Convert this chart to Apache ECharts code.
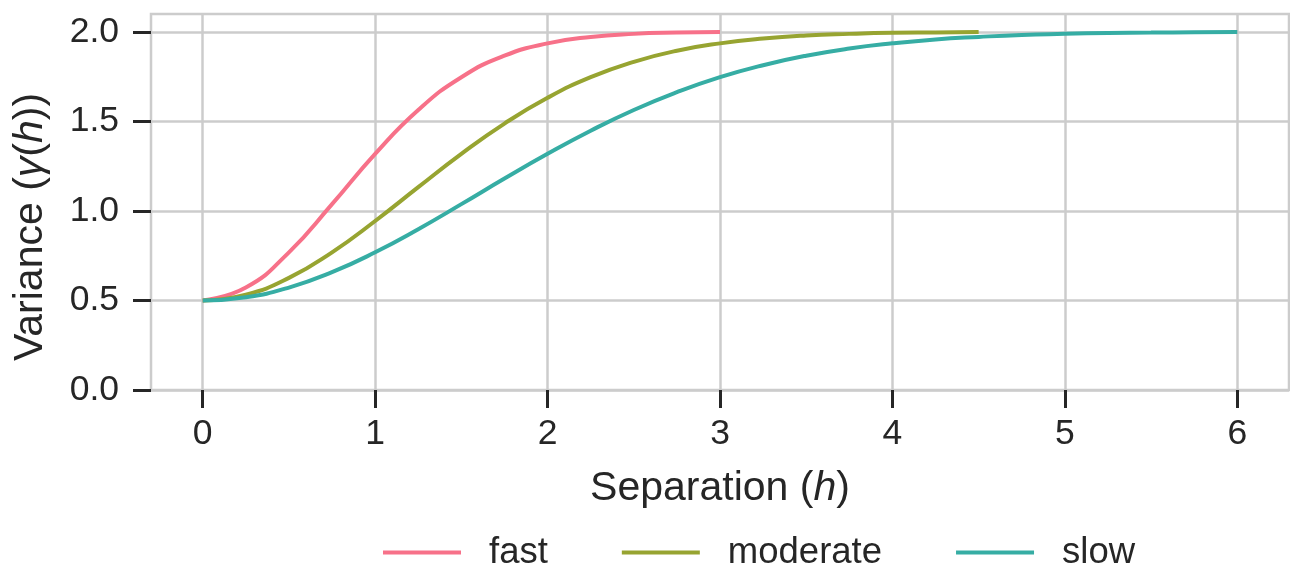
<!DOCTYPE html>
<html>
<head>
<meta charset="utf-8">
<script src="https://cdn.jsdelivr.net/npm/echarts@6/dist/echarts.min.js"></script>
<style>
  html, body { margin: 0; padding: 0; background: #fff; }
  #chart { width: 1290px; height: 565px; }
</style>
</head>
<body>
<div id="chart"></div>
<script>
// separation values (h) and the variance
const sepFast = [0, 0.25, 0.5, 0.75, 1, 1.25, 1.5, 1.75, 2, 2.25, 2.5, 2.75, 3]
const fast = [0.5, 0.572, 0.769, 1.038, 1.319, 1.564, 1.747, 1.867, 1.936, 1.972, 1.989, 1.996, 1.999]

const sepModerate = [0, 0.25, 0.5, 0.75, 1, 1.25, 1.5, 1.75, 2, 2.25, 2.5, 2.75, 3, 3.25, 3.5, 3.75, 4, 4.25, 4.5]
const moderate = [0.5, 0.533, 0.626, 0.769, 0.944, 1.133, 1.319, 1.488, 1.632, 1.747, 1.833, 1.895, 1.936, 1.963, 1.980, 1.989, 1.995, 1.997, 1.999]

const sepSlow = [0, 0.25, 0.5, 0.75, 1, 1.25, 1.5, 1.75, 2, 2.25, 2.5, 2.75, 3, 3.25, 3.5, 3.75, 4, 4.25, 4.5, 4.75, 5, 5.25, 5.5, 5.75, 6]
const slow = [0.5, 0.518, 0.572, 0.658, 0.769, 0.898, 1.038, 1.181, 1.319, 1.448, 1.564, 1.663, 1.747, 1.814, 1.867, 1.907, 1.936, 1.958, 1.972, 1.983, 1.989, 1.994, 1.996, 1.998, 1.999]

const xTicks = [0, 1, 2, 3, 4, 5, 6]
const yTicks = [0, 0.5, 1, 1.5, 2]

const names = ['fast', 'moderate', 'slow']
const colors = ['#f77189', '#97a431', '#36ada4']

const font = 'Liberation Sans, Arial, sans-serif'
const ink = '#262626'
const gridGrey = '#cccccc'

function pairs(xs, ys) {
  return xs.map((x, i) => [x, ys[i]])
}

const chart = echarts.init(document.getElementById('chart'))

const lineSeries = [pairs(sepFast, fast), pairs(sepModerate, moderate), pairs(sepSlow, slow)].map((d, i) => ({
  name: names[i],
  type: 'line',
  data: d,
  smooth: 0.5,
  showSymbol: false,
  symbol: 'none',
  lineStyle: { color: colors[i], width: 4 },
  itemStyle: { color: colors[i] },
  emphasis: { disabled: true },
  z: 3 + i
}))

const titleStyle = {
  fontFamily: font,
  fontSize: 41,
  color: ink,
  rich: {
    i: { fontFamily: font, fontSize: 41, fontStyle: 'italic', color: ink }
  }
}

const option = {
  animation: false,
  grid: {
    left: 151,
    right: 1,
    top: 14,
    bottom: 175,
    show: true,
    borderColor: gridGrey,
    borderWidth: 2.5,
    backgroundColor: 'transparent'
  },
  xAxis: {
    type: 'value',
    min: -0.3,
    max: 6.3,
    name: 'Separation ({i|h})',
    nameLocation: 'middle',
    nameGap: 78,
    nameTextStyle: titleStyle,
    axisLine: { show: false, onZero: false },
    axisTick: {
      show: true,
      customValues: xTicks,
      length: 18,
      lineStyle: { color: ink, width: 3 }
    },
    axisLabel: {
      customValues: xTicks,
      margin: 26,
      fontFamily: font,
      fontSize: 35.5,
      color: ink
    },
    splitLine: { show: true, lineStyle: { color: gridGrey, width: 2.5 } }
  },
  yAxis: {
    type: 'value',
    min: 0,
    max: 2.1,
    name: 'Variance ({i|γ}({i|h}))',
    nameLocation: 'middle',
    nameGap: 100,
    nameTextStyle: Object.assign({}, titleStyle, { padding: [0, 50, 0, 0] }),
    axisLine: { show: false, onZero: false },
    axisTick: {
      show: true,
      customValues: yTicks,
      length: 18,
      lineStyle: { color: ink, width: 3 }
    },
    axisLabel: {
      customValues: yTicks,
      margin: 32,
      fontFamily: font,
      fontSize: 35.5,
      color: ink,
      formatter: v => v.toFixed(1)
    },
    splitLine: { show: true, lineStyle: { color: gridGrey, width: 2.5 } }
  },
  legend: {
    data: names,
    left: 378,
    top: 529,
    icon: 'rect',
    itemWidth: 78,
    itemHeight: 4,
    itemGap: 74,
    textStyle: {
      fontFamily: font,
      fontSize: 36.5,
      color: ink,
      padding: [0, 0, 0, 23]
    }
  },
  series: lineSeries
}

chart.setOption(option)
</script>
</body>
</html>
